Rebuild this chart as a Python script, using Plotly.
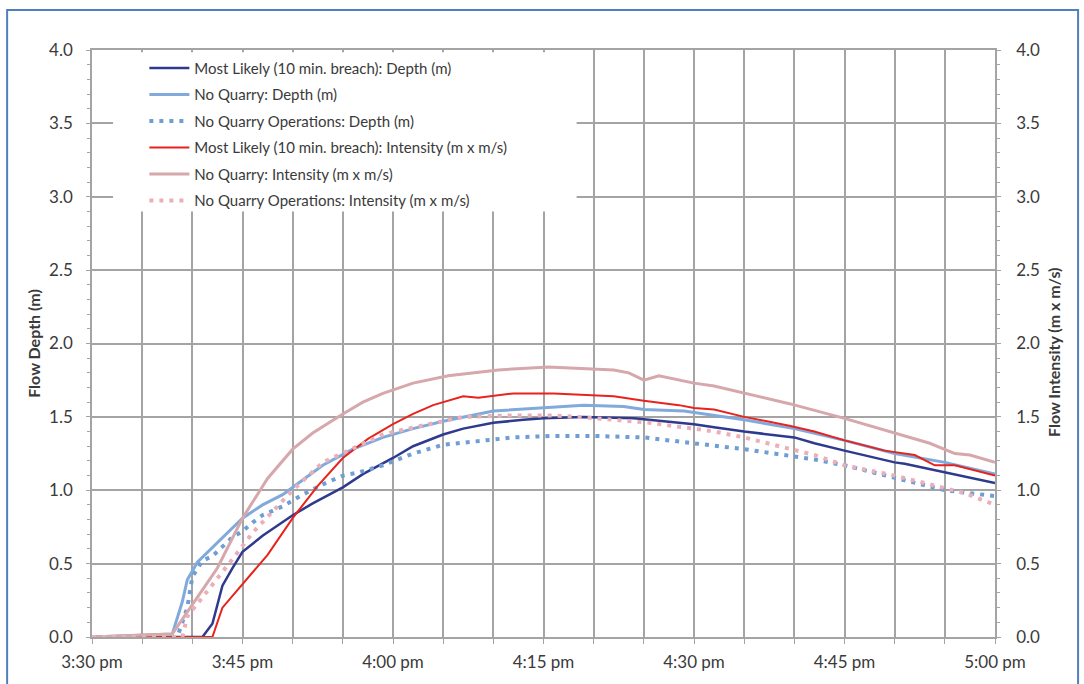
import plotly.graph_objects as go

# Time in minutes after 3:30 pm
tick_minutes = [0, 15, 30, 45, 60, 75, 90]
tick_labels = ["3:30 pm", "3:45 pm", "4:00 pm", "4:15 pm", "4:30 pm", "4:45 pm", "5:00 pm"]

t_depth_ml = [0, 11, 12, 13, 14, 15, 17, 20, 22, 25, 27, 30, 32, 35, 37, 40, 43, 45, 49, 54, 57, 60, 62, 65, 70, 72, 75, 80, 81, 85, 90]
v_depth_ml = [0, 0, 0.09, 0.35, 0.47, 0.58, 0.69, 0.83, 0.91, 1.02, 1.11, 1.22, 1.30, 1.38, 1.42, 1.46, 1.48, 1.49, 1.50, 1.49, 1.47, 1.45, 1.43, 1.40, 1.36, 1.32, 1.27, 1.19, 1.18, 1.12, 1.05]

t_depth_nq = [0, 8, 9, 9.5, 10.5, 12, 14, 15, 17, 19, 21, 23, 26, 29, 32, 35, 40, 45, 49, 53, 55, 59, 62, 65, 70, 75, 80, 85, 90]
v_depth_nq = [0, 0.02, 0.24, 0.39, 0.51, 0.61, 0.74, 0.81, 0.90, 0.97, 1.07, 1.17, 1.28, 1.36, 1.42, 1.47, 1.54, 1.56, 1.58, 1.57, 1.55, 1.54, 1.51, 1.48, 1.42, 1.34, 1.25, 1.19, 1.11]

t_depth_nqo = [0, 8.5, 9.5, 10, 11, 12, 14, 15, 16, 17, 19, 20, 21, 23, 25, 26.5, 29, 30.5, 32, 35, 39, 42, 46, 50, 55, 60, 62, 65, 69, 72, 75, 78.5, 82, 85, 90]
v_depth_nqo = [0, 0, 0.20, 0.41, 0.52, 0.55, 0.68, 0.72, 0.78, 0.83, 0.89, 0.93, 0.97, 1.04, 1.10, 1.12, 1.17, 1.21, 1.25, 1.31, 1.34, 1.36, 1.37, 1.37, 1.36, 1.32, 1.31, 1.28, 1.24, 1.21, 1.17, 1.11, 1.05, 1.00, 0.96]

t_int_ml = [0, 12, 13, 15, 17.5, 20, 22.5, 25, 27.5, 30, 32, 34, 36, 37, 38.5, 42, 46, 48.5, 52, 55, 58.5, 60, 62, 65, 69.5, 72, 75, 79, 82, 84, 86, 90]
v_int_ml = [0, 0, 0.20, 0.36, 0.56, 0.81, 1.03, 1.22, 1.35, 1.45, 1.52, 1.58, 1.62, 1.64, 1.63, 1.66, 1.66, 1.65, 1.64, 1.61, 1.58, 1.56, 1.55, 1.50, 1.44, 1.40, 1.34, 1.27, 1.24, 1.17, 1.17, 1.10]

t_int_nq = [0, 8, 10, 12.5, 15, 17.5, 20, 22, 25, 27, 29, 32, 35.5, 40.5, 45.5, 48.5, 52, 53.5, 55, 56.5, 60, 62, 65, 69.5, 75, 80, 83.5, 86, 87.5, 90]
v_int_nq = [0, 0.02, 0.22, 0.47, 0.81, 1.08, 1.28, 1.39, 1.52, 1.60, 1.66, 1.73, 1.78, 1.82, 1.84, 1.83, 1.82, 1.80, 1.75, 1.78, 1.73, 1.71, 1.66, 1.59, 1.49, 1.39, 1.32, 1.25, 1.24, 1.19]

t_int_nqo = [0, 9, 9.5, 11, 12, 14, 16, 18, 20, 23, 25.5, 29, 31.5, 37, 42, 45.5, 48.5, 52, 55.5, 60, 62, 65, 68.5, 72, 75, 80, 83.5, 87, 90]
v_int_nqo = [0, 0, 0.14, 0.27, 0.35, 0.53, 0.71, 0.86, 1.00, 1.19, 1.27, 1.38, 1.42, 1.50, 1.51, 1.51, 1.50, 1.48, 1.46, 1.42, 1.40, 1.36, 1.30, 1.24, 1.17, 1.10, 1.04, 0.98, 0.90]

left_title = "Flow Depth (m)"
right_title = "Flow Intensity (m x m/s)"

FONT = "Lato"
GRID = "#A4A4A4"
TXT = "#3A3A3A"

fig = go.Figure()

series = [
    ("Most Likely (10 min. breach): Depth (m)", t_depth_ml, v_depth_ml, "#2E3A8E", 2.5, "solid", "y"),
    ("No Quarry: Depth (m)", t_depth_nq, v_depth_nq, "#80AADC", 3, "solid", "y"),
    ("No Quarry Operations: Depth (m)", t_depth_nqo, v_depth_nqo, "#6E9ED4", 4, "4px,6px", "y"),
    ("Most Likely (10 min. breach): Intensity (m x m/s)", t_int_ml, v_int_ml, "#E8231E", 2, "solid", "y2"),
    ("No Quarry: Intensity (m x m/s)", t_int_nq, v_int_nq, "#D6A7AB", 3, "solid", "y2"),
    ("No Quarry Operations: Intensity (m x m/s)", t_int_nqo, v_int_nqo, "#EBAFB8", 4, "4px,6px", "y2"),
]
for i, (name, t, v, col, w, dash, ax) in enumerate(series):
    fig.add_trace(go.Scatter(
        x=t, y=v, name=name, mode="lines", yaxis=ax,
        line=dict(color=col, width=w, dash=dash),
        legendgroup=f"g{i}",
    ))

# white legend background box and outer blue frame
fig.add_shape(type="rect", xref="x", yref="y", x0=2.1, x1=48.3, y0=2.9, y1=3.985,
              fillcolor="white", line=dict(width=0), layer="above")
fig.add_shape(type="rect", xref="paper", yref="paper", x0=-0.094, x1=1.092, y0=-0.12, y1=1.068,
              line=dict(color="#4F7FBE", width=2), fillcolor="rgba(0,0,0,0)", layer="above")

# axis titles as rotated annotations
fig.add_annotation(text=f"<b>{left_title}</b>", xref="paper", yref="paper", x=-0.065, y=0.5,
                   textangle=-90, showarrow=False, font=dict(size=16, color=TXT, family=FONT),
                   xanchor="center", yanchor="middle")
fig.add_annotation(text=f"<b>{right_title}</b>", xref="paper", yref="paper", x=1.065, y=0.485,
                   textangle=-90, showarrow=False, font=dict(size=16, color=TXT, family=FONT),
                   xanchor="center", yanchor="middle")

fig.update_layout(
    width=1084, height=684,
    margin=dict(l=92, r=89, t=50, b=44),
    paper_bgcolor="white", plot_bgcolor="white",
    font=dict(family=FONT, size=17, color=TXT),
    showlegend=True,
    legend=dict(x=0.058, y=0.997, xanchor="left", yanchor="top",
                bgcolor="rgba(0,0,0,0)", font=dict(size=15, color=TXT, family=FONT),
                traceorder="grouped", tracegroupgap=4, itemwidth=40),
    xaxis=dict(
        range=[0, 90], tickvals=tick_minutes, ticktext=tick_labels,
        showgrid=True, gridcolor=GRID, gridwidth=1.5,
        showline=True, linecolor=GRID, linewidth=1.5, mirror=True,
        ticks="outside", ticklen=5, tickcolor=GRID, ticklabelstandoff=4,
        minor=dict(dtick=5, showgrid=True, gridcolor=GRID, gridwidth=1.5,
                   ticks="outside", ticklen=5, tickcolor=GRID),
        tickfont=dict(size=17, color=TXT), zeroline=False,
    ),
    yaxis=dict(
        range=[0, 4], dtick=0.5, tickformat=".1f",
        showgrid=True, gridcolor=GRID, gridwidth=1.5,
        showline=True, linecolor=GRID, linewidth=1.5,
        ticks="outside", ticklen=4, tickcolor=GRID, ticklabelstandoff=10,
        minor=dict(dtick=0.1, ticks="outside", ticklen=3, tickcolor=GRID),
        tickfont=dict(size=17, color=TXT), zeroline=False,
    ),
    yaxis2=dict(
        range=[0, 4], dtick=0.5, tickformat=".1f", overlaying="y", side="right",
        showgrid=False, showline=True, linecolor=GRID, linewidth=1.5,
        ticks="outside", ticklen=4, tickcolor=GRID, ticklabelstandoff=12,
        minor=dict(dtick=0.1, ticks="outside", ticklen=3, tickcolor=GRID),
        tickfont=dict(size=17, color=TXT), zeroline=False,
    ),
)

fig.write_html("out.html", config={"displayModeBar": False},
               post_script="document.body.style.margin='0';document.body.style.overflow='hidden';")
